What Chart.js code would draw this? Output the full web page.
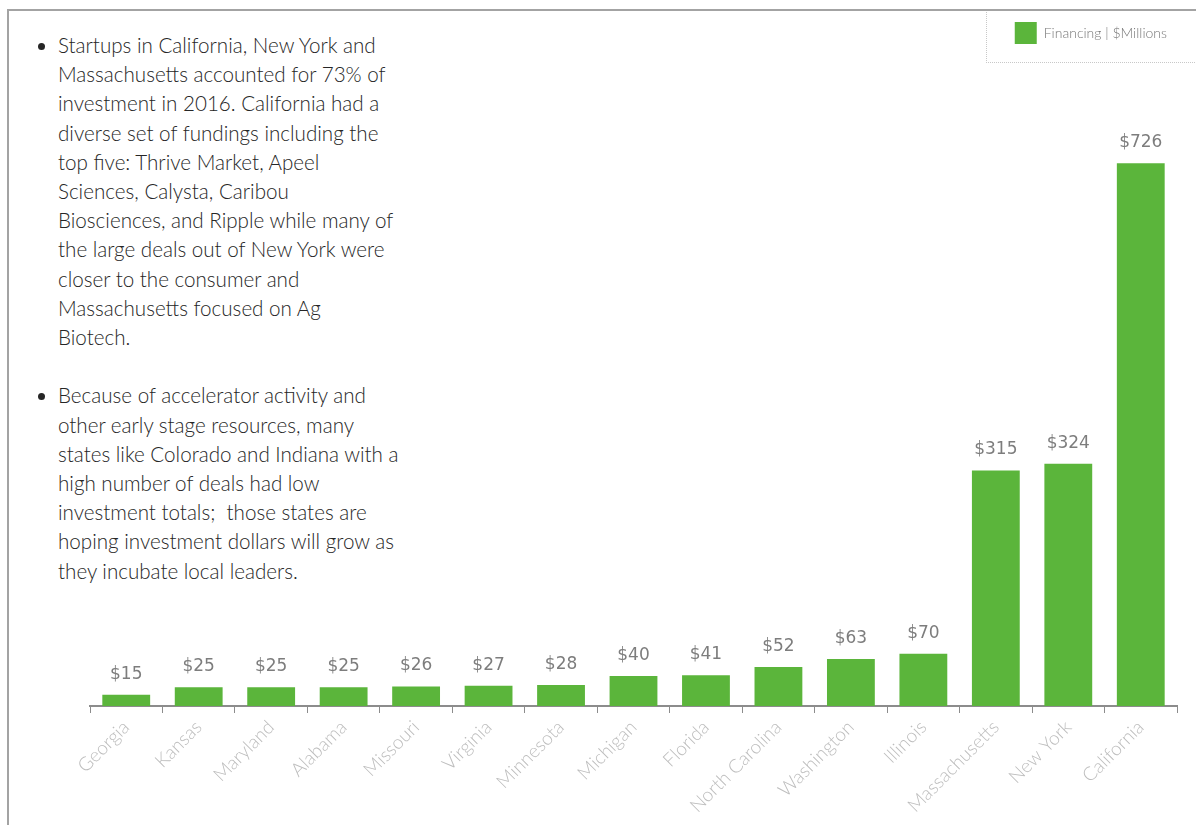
<!DOCTYPE html>
<html>
<head>
<meta charset="utf-8">
<script src="https://cdn.jsdelivr.net/npm/chart.js@4.4.1/dist/chart.umd.min.js"></script>
<style>
  html, body { margin: 0; padding: 0; background: #fff; overflow: hidden; }
  #page { position: relative; width: 1196px; height: 825px; overflow: hidden; }
  #frame {
    position: absolute; left: 7px; top: 9px; width: 1200px; height: 830px;
    border-top: 2px solid #a3a3a3; border-left: 2px solid #a3a3a3;
  }
  #legendBox {
    position: absolute; left: 986px; top: 12px; width: 230px; height: 50px;
    border-left: 1px dotted #c8c8c8; border-bottom: 1px dotted #c8c8c8;
  }
  #notes {
    position: absolute; left: 32px; top: 31px; width: 420px;
    font-family: Lato, "Open Sans", sans-serif; font-size: 20.6px; font-weight: 300;
    line-height: 29.2px; color: #262626;
  }
  #notes ul { margin: 0; padding: 0 0 0 26px; }
  #notes li { margin: 0 0 29.2px 0; }
  #chartWrap { position: absolute; left: 0; top: 0; width: 1196px; height: 825px; }
</style>
</head>
<body>
<div id="page">
  <div id="frame"></div>
  <div id="legendBox"></div>
  <div id="notes">
    <ul>
      <li>Startups in California, New York and<br>Massachusetts accounted for 73% of<br>investment in 2016. California had a<br>diverse set of fundings including the<br>top five: Thrive Market, Apeel<br>Sciences, Calysta, Caribou<br>Biosciences, and Ripple while many of<br>the large deals out of New York were<br>closer to the consumer and<br>Massachusetts focused on Ag<br>Biotech.</li>
      <li>Because of accelerator activity and<br>other early stage resources, many<br>states like Colorado and Indiana with a<br>high number of deals had low<br>investment totals;&nbsp; those states are<br>hoping investment dollars will grow as<br>they incubate local leaders.</li>
    </ul>
  </div>
  <div id="chartWrap"><canvas id="myChart"></canvas></div>
</div>
<script>
// Financiamento por estado, em milhões de dólares
const states = ['Georgia', 'Kansas', 'Maryland', 'Alabama', 'Missouri', 'Virginia', 'Minnesota',
  'Michigan', 'Florida', 'North Carolina', 'Washington', 'Illinois', 'Massachusetts', 'New York', 'California'];
const financing = [15, 25, 25, 25, 26, 27, 28, 40, 41, 52, 63, 70, 315, 324, 726];
const seriesLabel = 'Financing | $Millions';

// Rótulos de valor acima de cada barra
const valueLabels = {
  id: 'valueLabels',
  afterDatasetsDraw(chart) {
    const ctx = chart.ctx;
    const meta = chart.getDatasetMeta(0);
    ctx.save();
    ctx.font = '17px "DejaVu Sans", sans-serif';
    ctx.fillStyle = '#7d7d7d';
    ctx.textAlign = 'center';
    ctx.textBaseline = 'bottom';
    meta.data.forEach((bar, i) => {
      ctx.fillText('$' + financing[i], bar.x, bar.y - 12);
    });
    ctx.restore();
  }
};

const ctx = document.getElementById('myChart').getContext('2d');
const myChart = new Chart(ctx, {
  type: 'bar',
  data: {
    labels: states,
    datasets: [{
      label: seriesLabel,
      data: financing,
      backgroundColor: '#5bb53b',
      barPercentage: 0.66,
      categoryPercentage: 1.0
    }]
  },
  options: {
    responsive: true,
    maintainAspectRatio: false,
    animation: false,
    layout: { padding: { left: 90, right: 19, top: 12, bottom: 0 } },
    plugins: {
      legend: {
        position: 'top',
        align: 'end',
        labels: {
          boxWidth: 22,
          boxHeight: 22,
          padding: 10,
          color: '#777777',
          font: { family: 'Lato, sans-serif', size: 14, weight: '300' }
        }
      },
      tooltip: { enabled: false }
    },
    scales: {
      x: {
        grid: {
          display: true,
          drawOnChartArea: false,
          drawTicks: true,
          tickLength: 7,
          color: '#8c8c8c',
          lineWidth: 1
        },
        border: { display: true, color: '#8c8c8c', width: 2 },
        ticks: {
          minRotation: 45,
          maxRotation: 45,
          padding: 3,
          color: '#bdbdbd',
          font: { family: 'Lato, sans-serif', size: 19, weight: '300' }
        },
        afterFit(scale) { scale.height = 119; }
      },
      y: {
        display: false,
        min: 0,
        max: 872
      }
    }
  },
  plugins: [valueLabels]
});
</script>
</body>
</html>
